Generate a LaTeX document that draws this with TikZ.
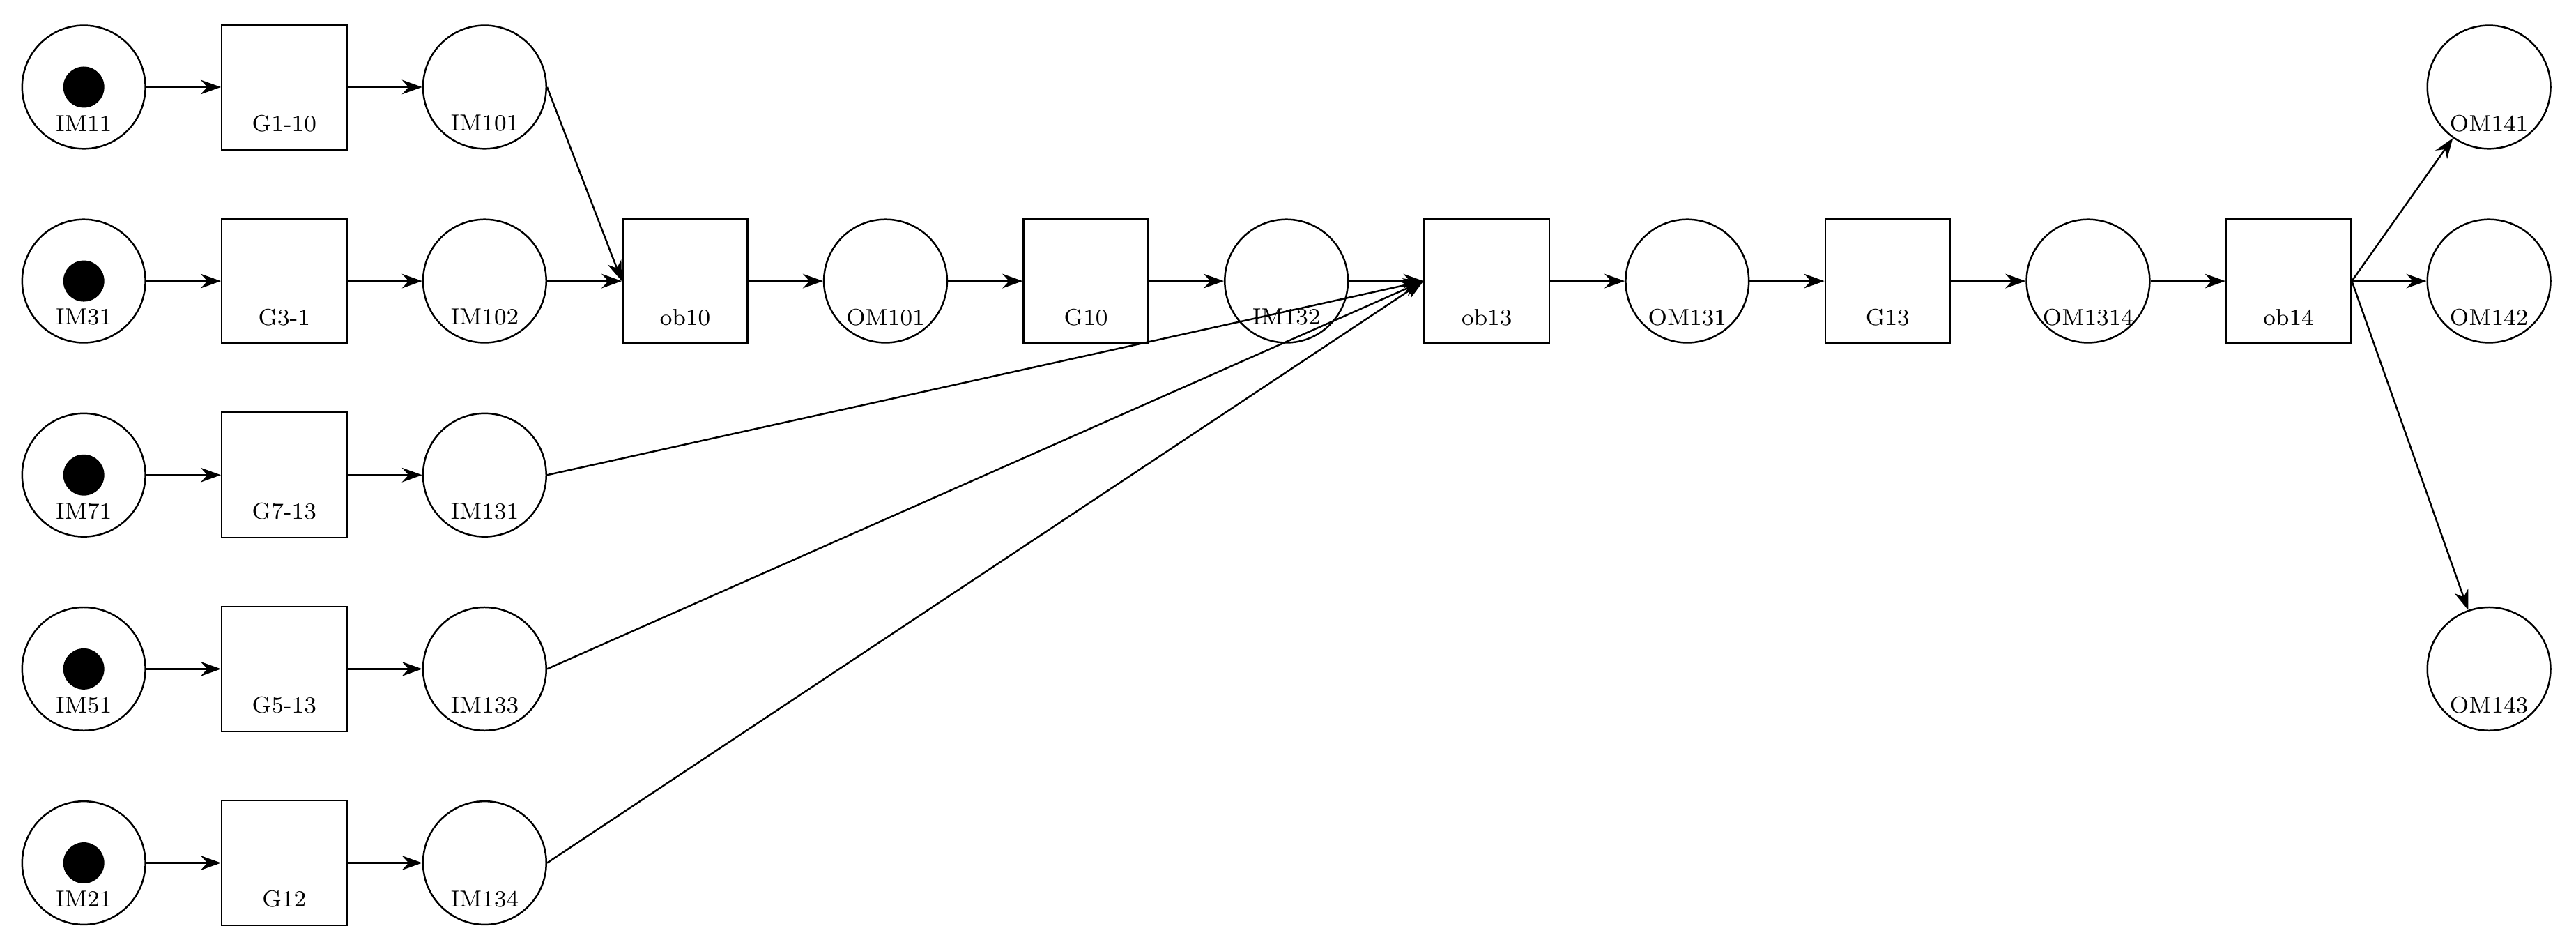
\documentclass[tikz,border=0pt]{standalone}
\usetikzlibrary{positioning, arrows.meta}
\tikzset{
  ->, % directed arcs
  >={Stealth[length=7pt,width=5pt]}, % filled arrow heads
  place/.style={circle, draw, minimum size=1.5cm, inner sep=0pt}, % places
  trans/.style={rectangle, draw, minimum size=1.52cm, inner sep=0pt}, % transitions
  token/.style={circle, fill, minimum size=0.5cm, inner sep=0pt},
  lbl/.style={font=\footnotesize, yshift=-0.44cm},
}
\begin{document}
\begin{tikzpicture}[on grid, node distance=2.36cm and 2.44cm, semithick]
  \useasboundingbox (0,0) rectangle (31.36,-11.54);
  % input places
  \node[place] (IM11) at (1.02,-1.06) {};
  \node[place, below=of IM11] (IM31) {};
  \node[place, below=of IM31] (IM71) {};
  \node[place, below=of IM71] (IM51) {};
  \node[place, below=of IM51] (IM21) {};
  \foreach \p in {IM11, IM31, IM71, IM51, IM21} {
    \node[token] at (\p) {};
    \node[lbl, -] at (\p) {\p};
  }
  % first transitions
  \node[trans, right=of IM11] (G1-10) {};
  \node[trans, right=of IM31] (G3-1) {};
  \node[trans, right=of IM71] (G7-13) {};
  \node[trans, right=of IM51] (G5-13) {};
  \node[trans, right=of IM21] (G12) {};
  % intermediate places
  \node[place, right=of G1-10] (IM101) {};
  \node[place, right=of G3-1] (IM102) {};
  \node[place, right=of G7-13] (IM131) {};
  \node[place, right=of G5-13] (IM133) {};
  \node[place, right=of G12] (IM134) {};
  % main chain
  \node[trans, right=of IM102] (ob10) {};
  \node[place, right=of ob10] (OM101) {};
  \node[trans, right=of OM101] (G10) {};
  \node[place, right=of G10] (IM132) {};
  \node[trans, right=of IM132] (ob13) {};
  \node[place, right=of ob13] (OM131) {};
  \node[trans, right=of OM131] (G13) {};
  \node[place, right=of G13] (OM1314) {};
  \node[trans, right=of OM1314] (ob14) {};
  \node[place, right=of ob14] (OM142) {};
  \node[place, above=of OM142] (OM141) {};
  \node[place, below=4.72cm of OM142] (OM143) {};
  \foreach \p in {G1-10, G3-1, G7-13, G5-13, G12, IM101, IM102, IM131, IM133,
    IM134, ob10, OM101, G10, IM132, ob13, OM131, G13, OM1314, ob14, OM141,
    OM142, OM143} {
    \node[lbl, -] at (\p) {\p};
  }

  \draw (IM11) -- (G1-10);
  \draw (G1-10) -- (IM101);
  \draw (IM31) -- (G3-1);
  \draw (G3-1) -- (IM102);
  \draw (IM71) -- (G7-13);
  \draw (G7-13) -- (IM131);
  \draw (IM51) -- (G5-13);
  \draw (G5-13) -- (IM133);
  \draw (IM21) -- (G12);
  \draw (G12) -- (IM134);

  \draw (IM101.east) -- (ob10.west);
  \draw (IM102) -- (ob10);
  \draw (ob10) -- (OM101);
  \draw (OM101) -- (G10);
  \draw (G10) -- (IM132);
  \draw (IM132) -- (ob13);
  \draw (IM131.east) -- (ob13.west);
  \draw (IM133.east) -- (ob13.west);
  \draw (IM134.east) -- (ob13.west);
  \draw (ob13) -- (OM131);
  \draw (OM131) -- (G13);
  \draw (G13) -- (OM1314);
  \draw (OM1314) -- (ob14);
  \draw (ob14.east) -- (OM141);
  \draw (ob14) -- (OM142);
  \draw (ob14.east) -- (OM143);
\end{tikzpicture}
\end{document}
